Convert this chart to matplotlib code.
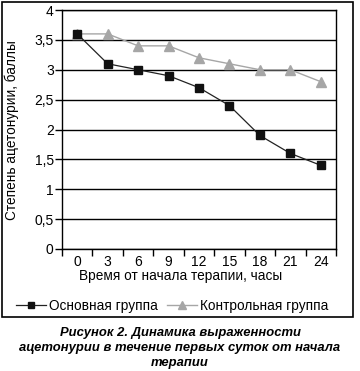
import matplotlib
matplotlib.use("Agg")
import matplotlib.pyplot as plt
from matplotlib.patches import Rectangle
from matplotlib.lines import Line2D

plt.rcParams['font.family'] = ['Liberation Sans', 'DejaVu Sans']

hours = ["0", "3", "6", "9", "12", "15", "18", "21", "24"]
main_group = [3.6, 3.1, 3.0, 2.9, 2.7, 2.4, 1.9, 1.6, 1.4]
control_group = [3.6, 3.6, 3.4, 3.4, 3.2, 3.1, 3.0, 3.0, 2.8]
y_ticks = [0, 0.5, 1, 1.5, 2, 2.5, 3, 3.5, 4]
y_tick_labels = ["0", "0,5", "1", "1,5", "2", "2,5", "3", "3,5", "4"]

W, H = 360, 371
fig = plt.figure(figsize=(W / 100, H / 100), dpi=100)
fig.patch.set_facecolor("white")

ax = fig.add_axes([62 / W, 1 - 249 / H, 274 / W, 239 / H])
x = list(range(len(hours)))

for t in y_ticks:
    ax.axhline(t, color="black", lw=1.0, zorder=1)

ax.plot(x, control_group, color="#a6a6a6", lw=1.0, marker="^", ms=7,
        mfc="#a6a6a6", mec="#a6a6a6", zorder=3, label="Контрольная группа")
ax.plot(x, main_group, color="#222222", lw=0.9, marker="s", ms=5.5,
        mfc="#111111", mec="#111111", zorder=4, label="Основная группа")

ax.set_xlim(-0.5, len(hours) - 0.5)
ax.set_ylim(0, 4)
ax.set_xticks(x)
ax.set_xticklabels(hours, fontsize=10)
ax.tick_params(axis="x", which="major", length=0, pad=4)
ax.set_xticks([i - 0.5 for i in range(len(hours) + 1)], minor=True)
ax.tick_params(axis="x", which="minor", length=5, width=1, direction="out")
ax.set_yticks(y_ticks)
ax.set_yticklabels(y_tick_labels, fontsize=10)
ax.tick_params(axis="y", length=5, width=1, direction="out", pad=1)
for s in ax.spines.values():
    s.set_linewidth(1.0)
    s.set_color("black")

fig.text(181 / W, 1 - 276 / H, "Время от начала терапии, часы", ha="center",
         va="center", fontsize=9.8)
fig.text(12 / W, 1 - 130 / H, "Степень ацетонурии, баллы", ha="center",
         va="center", rotation=90, fontsize=9.8)

handles = [
    Line2D([], [], color="#222222", lw=0.9, marker="s", ms=5, mfc="#111111", mec="#111111"),
    Line2D([], [], color="#a6a6a6", lw=1.0, marker="^", ms=6, mfc="#a6a6a6", mec="#a6a6a6"),
]
fig.legend(handles, ["Основная группа", "Контрольная группа"], ncol=2,
           loc="center", bbox_to_anchor=(172 / W, 1 - 306 / H), frameon=False,
           fontsize=9.8, handlelength=2.2, handletextpad=0.25, columnspacing=0.65,
           borderaxespad=0, borderpad=0)

fig.add_artist(Rectangle((1.5 / W, 1 - 317 / H), 351 / W, 315 / H,
                         transform=fig.transFigure, fill=False,
                         edgecolor="black", lw=1.2))

caption = ["Рисунок 2. Динамика выраженности",
           "ацетонурии в течение первых суток от начала",
           "терапии"]
for i, line in enumerate(caption):
    fig.text(180 / W, 1 - (333 + 15 * i) / H, line, ha="center", va="center",
             fontsize=9.4, fontweight="bold", fontstyle="italic")

fig.savefig("out.png", dpi=100)
